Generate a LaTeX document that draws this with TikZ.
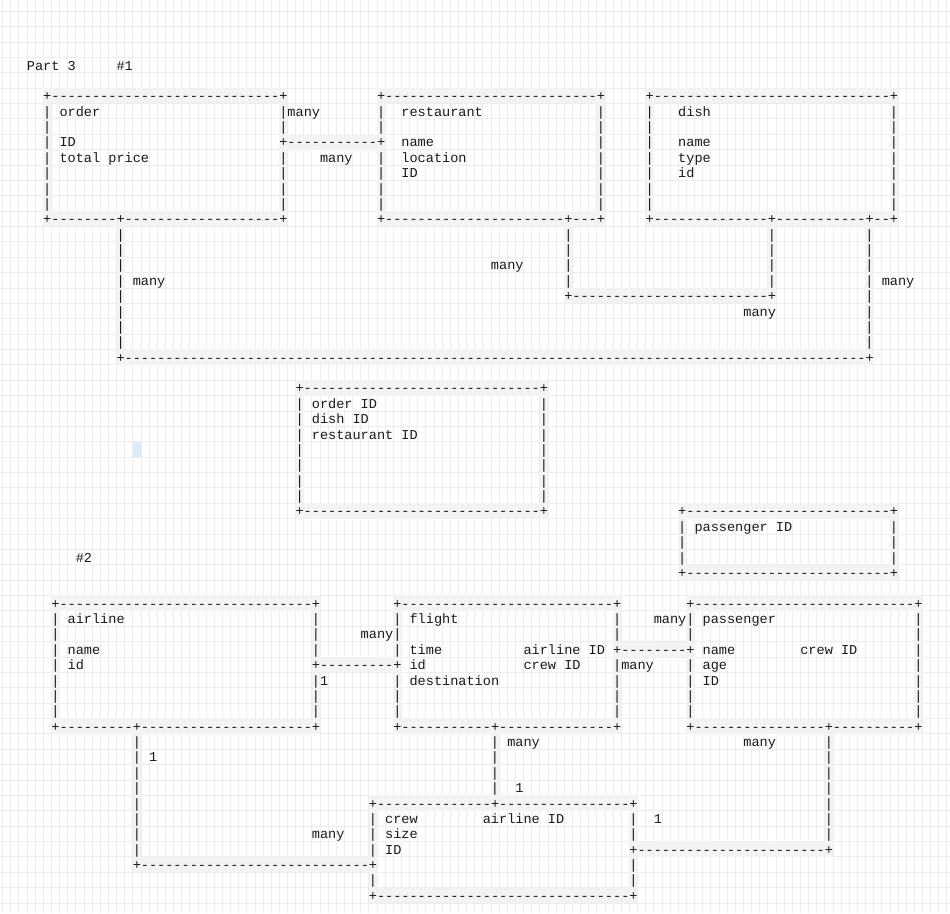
\documentclass[tikz,border=0pt]{standalone}
\usepackage{fontspec}
\newfontfamily\ascfont{Liberation Mono}
\ExplSyntaxOn
\NewDocumentCommand\dsh{m}{\prg_replicate:nn{#1}{-\kern0pt}}
\ExplSyntaxOff
\definecolor{ink}{RGB}{25,25,25}
\definecolor{gridc}{RGB}{237,237,237}
\definecolor{hlc}{RGB}{243,243,243}
\definecolor{cursorc}{RGB}{221,236,252}
\pgfdeclarelayer{glayer}
\pgfdeclarelayer{hlayer}
\pgfsetlayers{glayer,hlayer,main}
\tikzset{
  txt/.style={inner sep=0pt, outer sep=0pt, anchor=base west, text=ink,
    font=\ascfont\fontsize{13.57}{15.375}\selectfont},
  hlfill/.style={fill=hlc},
  gridline/.style={draw=gridc, line width=0.8pt}
}
\newcommand\Hrun[4]{%
  \begin{pgfonlayer}{hlayer}
    \fill[hlfill] ({26.95+8.141*(#2)},{57.31+15.375*(#1)}) rectangle ({26.95+8.141*(#3+1)},{57.31+15.375*(#1+1)});
  \end{pgfonlayer}
  \node[txt] (h#1-#2) at ({26.95+8.141*(#2)},{70.1+15.375*(#1)}) {#4};
}
\newcommand\Vrun[3]{%
  \begin{pgfonlayer}{hlayer}
    \fill[hlfill] ({26.95+8.141*(#1)},{57.31+15.375*(#2)}) rectangle ({26.95+8.141*(#1+1)},{57.31+15.375*(#3+1)});
  \end{pgfonlayer}
  \foreach \rr in {#2,...,#3}{\node[txt] (v#1-\rr) at ({26.95+8.141*(#1)},{70.1+15.375*\rr}) {|};}
}
\newcommand\Txt[3]{\node[txt] (t#1-#2) at ({26.95+8.141*(#2)},{70.1+15.375*(#1)}) {#3};}
\begin{document}
\begin{tikzpicture}[x=1pt,y=-1pt]
\useasboundingbox (0,0) rectangle (950,913);
\begin{pgfonlayer}{glayer}
  \fill[white] (0,0) rectangle (950,913);
  \foreach \k in {-3,...,113} \draw[gridline] ({26.95+8.141*\k},0) -- ({26.95+8.141*\k},913);
  \foreach \k in {-3,...,55} \draw[gridline] (0,{57.31+15.375*\k}) -- (950,{57.31+15.375*\k});
\end{pgfonlayer}
% cursor cell
\begin{pgfonlayer}{hlayer}
  \fill[cursorc] ({26.95+8.141*13},{57.31+15.375*25}) rectangle ({26.95+8.141*14},{57.31+15.375*26});
\end{pgfonlayer}
% ---------- horizontal runs ----------
\Hrun{2}{2}{31}{+\dsh{28}+}
\Hrun{2}{43}{70}{+\dsh{26}+}
\Hrun{2}{76}{106}{+\dsh{29}+}
\Hrun{5}{31}{43}{+\dsh{11}+}
\Hrun{10}{2}{31}{+\dsh{8}+\dsh{19}+}
\Hrun{10}{43}{70}{+\dsh{22}+\dsh{3}+}
\Hrun{10}{76}{106}{+\dsh{14}+\dsh{11}+\dsh{2}+}
\Hrun{15}{66}{91}{+\dsh{24}+}
\Hrun{19}{11}{103}{+\dsh{91}+}
\Hrun{21}{33}{63}{+\dsh{29}+}
\Hrun{29}{33}{63}{+\dsh{29}+}
\Hrun{29}{80}{106}{+\dsh{25}+}
\Hrun{33}{80}{106}{+\dsh{25}+}
\Hrun{35}{3}{35}{+\dsh{31}+}
\Hrun{35}{45}{72}{+\dsh{26}+}
\Hrun{35}{81}{109}{+\dsh{27}+}
\Hrun{38}{72}{81}{+\dsh{8}+}
\Hrun{39}{35}{45}{+\dsh{9}+}
\Hrun{43}{3}{35}{+\dsh{9}+\dsh{21}+}
\Hrun{43}{45}{72}{+\dsh{11}+\dsh{14}+}
\Hrun{43}{81}{109}{+\dsh{16}+\dsh{10}+}
\Hrun{48}{42}{74}{+\dsh{14}+\dsh{16}+}
\Hrun{51}{74}{98}{+\dsh{23}+}
\Hrun{52}{13}{42}{+\dsh{28}+}
\Hrun{54}{42}{74}{+\dsh{31}+}
% ---------- vertical runs ----------
\Vrun{2}{3}{9}
\Vrun{31}{3}{4}
\Vrun{31}{6}{9}
\Vrun{43}{3}{4}
\Vrun{43}{6}{9}
\Vrun{70}{3}{9}
\Vrun{76}{3}{9}
\Vrun{106}{3}{9}
\Vrun{11}{11}{18}
\Vrun{66}{11}{14}
\Vrun{91}{11}{14}
\Vrun{103}{11}{18}
\Vrun{33}{22}{28}
\Vrun{63}{22}{28}
\Vrun{80}{30}{32}
\Vrun{106}{30}{32}
\Vrun{3}{36}{42}
\Vrun{35}{36}{38}
\Vrun{35}{40}{42}
\Vrun{45}{36}{38}
\Vrun{45}{40}{42}
\Vrun{72}{36}{37}
\Vrun{72}{39}{42}
\Vrun{81}{36}{37}
\Vrun{81}{39}{42}
\Vrun{109}{36}{42}
\Vrun{13}{44}{51}
\Vrun{57}{44}{47}
\Vrun{98}{44}{50}
\Vrun{42}{49}{51}
\Vrun{42}{53}{53}
\Vrun{74}{49}{50}
\Vrun{74}{52}{53}
% ---------- labels ----------
\Txt{0}{0}{Part 3}
\Txt{0}{11}{\#1}
\Txt{3}{4}{order}
\Txt{3}{32}{many}
\Txt{3}{46}{restaurant}
\Txt{3}{80}{dish}
\Txt{5}{4}{ID}
\Txt{5}{46}{name}
\Txt{5}{80}{name}
\Txt{6}{4}{total price}
\Txt{6}{36}{many}
\Txt{6}{46}{location}
\Txt{6}{80}{type}
\Txt{7}{46}{ID}
\Txt{7}{80}{id}
\Txt{13}{57}{many}
\Txt{14}{13}{many}
\Txt{14}{105}{many}
\Txt{16}{88}{many}
\Txt{22}{35}{order ID}
\Txt{23}{35}{dish ID}
\Txt{24}{35}{restaurant ID}
\Txt{30}{82}{passenger ID}
\Txt{32}{6}{\#2}
\Txt{36}{5}{airline}
\Txt{36}{47}{flight}
\Txt{36}{77}{many}
\Txt{36}{83}{passenger}
\Txt{37}{41}{many}
\Txt{38}{5}{name}
\Txt{38}{47}{time}
\Txt{38}{61}{airline ID}
\Txt{38}{83}{name}
\Txt{38}{95}{crew ID}
\Txt{39}{5}{id}
\Txt{39}{47}{id}
\Txt{39}{61}{crew ID}
\Txt{39}{73}{many}
\Txt{39}{83}{age}
\Txt{40}{36}{1}
\Txt{40}{47}{destination}
\Txt{40}{83}{ID}
\Txt{44}{59}{many}
\Txt{44}{88}{many}
\Txt{45}{15}{1}
\Txt{47}{60}{1}
\Txt{49}{44}{crew}
\Txt{49}{56}{airline ID}
\Txt{49}{77}{1}
\Txt{50}{35}{many}
\Txt{50}{44}{size}
\Txt{51}{44}{ID}
\end{tikzpicture}
\end{document}
